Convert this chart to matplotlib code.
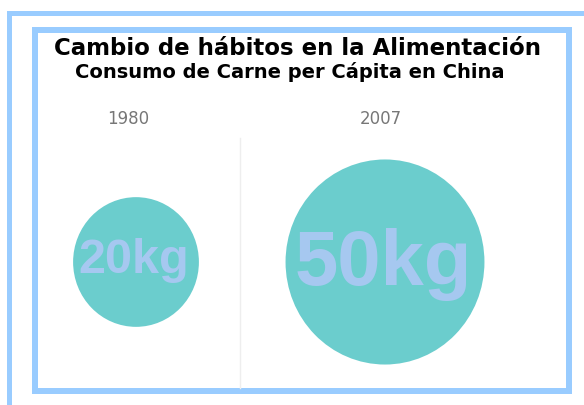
import numpy as np
import matplotlib
matplotlib.use('Agg')
import matplotlib.pyplot as plt
from matplotlib.patches import Rectangle, Ellipse

# data
years = ['1980', '2007']
consumo_kg = [20, 50]
value_labels = ['20kg', '50kg']

title = 'Cambio de hábitos en la Alimentación'
subtitle = 'Consumo de Carne per Cápita en China'

FRAME = '#99CCFF'
BUBBLE = '#6BCDCD'
LABEL = '#A6C8F0'

W, H = 584, 405
fig = plt.figure(figsize=(W / 100, H / 100), dpi=100)
ax = fig.add_axes([0, 0, 1, 1])
ax.set_xlim(0, W)
ax.set_ylim(H, 0)
ax.axis('off')

# outer frame (only left and top sides visible)
ax.add_patch(Rectangle((7, 11), 5, H - 11, color=FRAME, lw=0))
ax.add_patch(Rectangle((7, 11), W - 7, 5, color=FRAME, lw=0))

# inner frame
ax.add_patch(Rectangle((35, 30), 534, 361, facecolor='white',
                       edgecolor=FRAME, lw=6 * 72 / 100))

# divider between the two years
ax.plot([240, 240], [138, 388], color='#EEEEEE', lw=1)

ax.text(297, 55, title, ha='center', va='baseline', fontsize=16.5,
        fontweight='heavy', family='DejaVu Sans', color='black')
ax.text(290, 78, subtitle, ha='center', va='baseline', fontsize=14,
        fontweight='bold', family='DejaVu Sans', color='black')

# bubbles: area proportional to kg
centers_x = [136, 385]
year_x = [128, 381]
cy = 262
k = 14.5
for i, (yr, v, lab) in enumerate(zip(years, consumo_kg, value_labels)):
    r = k * np.sqrt(v)
    ax.add_patch(Ellipse((centers_x[i], cy), 2 * r * 0.97, 2 * r,
                         facecolor=BUBBLE, edgecolor='none'))
    ax.text(year_x[i], 119, yr, ha='center', va='center',
            fontsize=12, color='#777777', family='DejaVu Sans')
    fs = 35 if v < 30 else 56
    base = 273 if v < 30 else 285
    ax.text(centers_x[i] - 2, base, lab, ha='center', va='baseline',
            fontsize=fs, fontweight='bold', family='Liberation Sans',
            color=LABEL)

fig.savefig('out.png', dpi=100)
